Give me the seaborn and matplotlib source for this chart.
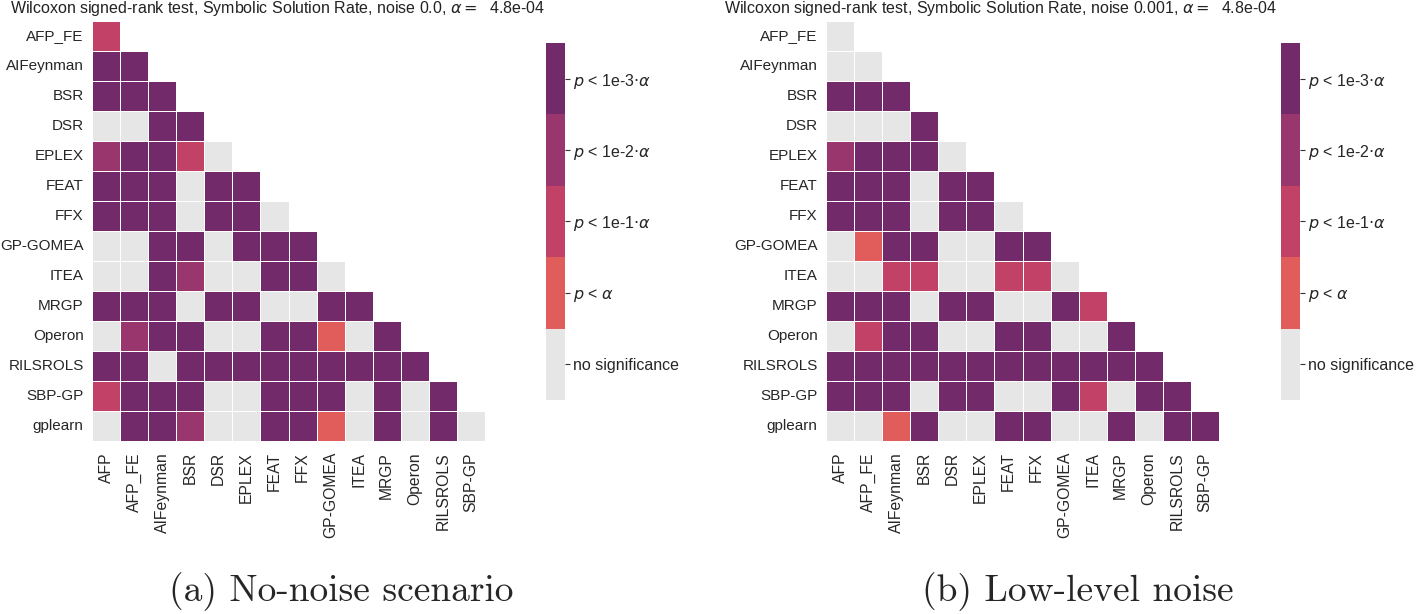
import numpy as np
import pandas as pd
import matplotlib
matplotlib.use("Agg")
import matplotlib.pyplot as plt
from matplotlib.colors import ListedColormap
import seaborn as sns

# Methods (rows / columns of the lower-triangular test matrix)
row_names = ["AFP_FE", "AIFeynman", "BSR", "DSR", "EPLEX", "FEAT", "FFX",
             "GP-GOMEA", "ITEA", "MRGP", "Operon", "RILSROLS", "SBP-GP", "gplearn"]
col_names = ["AFP", "AFP_FE", "AIFeynman", "BSR", "DSR", "EPLEX", "FEAT", "FFX",
             "GP-GOMEA", "ITEA", "MRGP", "Operon", "RILSROLS", "SBP-GP"]

# significance level: 0 none, 1 p<a, 2 p<1e-1a, 3 p<1e-2a, 4 p<1e-3a
levels_noise0 = [
    [2],
    [4, 4],
    [4, 4, 4],
    [0, 0, 4, 4],
    [3, 4, 4, 2, 0],
    [4, 4, 4, 0, 4, 4],
    [4, 4, 4, 0, 4, 4, 0],
    [0, 0, 4, 4, 0, 4, 4, 4],
    [0, 0, 4, 3, 0, 0, 4, 4, 0],
    [4, 4, 4, 0, 4, 4, 0, 0, 4, 4],
    [0, 3, 4, 4, 0, 0, 4, 4, 1, 0, 4],
    [4, 4, 0, 4, 4, 4, 4, 4, 4, 4, 4, 4],
    [2, 4, 4, 4, 0, 0, 4, 4, 4, 0, 4, 0, 4],
    [0, 4, 4, 3, 0, 0, 4, 4, 1, 0, 4, 0, 4, 0],
]
levels_noise001 = [
    [0],
    [0, 0],
    [4, 4, 4],
    [0, 0, 0, 4],
    [3, 4, 4, 4, 0],
    [4, 4, 4, 0, 4, 4],
    [4, 4, 4, 0, 4, 4, 0],
    [0, 1, 4, 4, 0, 0, 4, 4],
    [0, 0, 2, 2, 0, 0, 2, 2, 0],
    [4, 4, 4, 0, 4, 4, 0, 0, 4, 2],
    [0, 2, 4, 4, 0, 0, 4, 4, 0, 0, 4],
    [4, 4, 4, 4, 4, 4, 4, 4, 4, 4, 4, 4],
    [4, 4, 4, 0, 4, 4, 0, 0, 4, 2, 0, 4, 4],
    [0, 0, 1, 4, 0, 0, 4, 4, 0, 0, 4, 0, 4, 4],
]

level_labels = ["no significance", r"$p$ < $\alpha$", r"$p$ < 1e-1$\cdot\alpha$",
                r"$p$ < 1e-2$\cdot\alpha$", r"$p$ < 1e-3$\cdot\alpha$"]
colors = ["#e6e6e6", "#e05d5b", "#c24167", "#99366e", "#722a6a"]

titles = [r"Wilcoxon signed-rank test, Symbolic Solution Rate, noise 0.0, $\alpha =$  4.8e-04",
          r"Wilcoxon signed-rank test, Symbolic Solution Rate, noise 0.001, $\alpha =$  4.8e-04"]
captions = ["(a) No-noise scenario", "(b) Low-level noise"]

sns.set_style("white")
plt.rcParams["font.family"] = ["Liberation Sans", "DejaVu Sans"]


def to_frame(rows):
    n = len(row_names)
    m = np.full((n, len(col_names)), np.nan)
    for i, r in enumerate(rows):
        m[i, :len(r)] = r
    return pd.DataFrame(m, index=row_names, columns=col_names)


W, H = 1418, 614
fig = plt.figure(figsize=(W / 100, H / 100), dpi=100)
cmap = ListedColormap(colors)

panels = [(levels_noise0, 92, 546, 278), (levels_noise001, 826, 1281, 1000)]
for k, (rows, ax_x, cb_x, title_x) in enumerate(panels):
    ax = fig.add_axes([ax_x / W, 1 - 441 / H, 393 / W, 420 / H])
    cax = fig.add_axes([cb_x / W, 1 - 400 / H, 19 / W, 357 / H])
    df = to_frame(rows)
    sns.heatmap(df, ax=ax, cbar_ax=cax, cmap=cmap, vmin=-0.5, vmax=4.5,
                linewidths=0.5, linecolor="white", square=False,
                cbar_kws={"ticks": range(5)})
    ax.tick_params(length=0)
    ax.tick_params(axis="y", pad=6, labelsize=11)
    ax.tick_params(axis="x", pad=8, labelsize=11.3)
    plt.setp(ax.get_xticklabels(), rotation=90)
    plt.setp(ax.get_yticklabels(), rotation=0)
    cb = ax.collections[0].colorbar
    cb.set_ticklabels(level_labels)
    cb.outline.set_visible(False)
    cax.tick_params(right=True, length=3.5, width=0.8, labelsize=11.5, pad=2,
                    color="#333333")
    fig.text(title_x / W, 1 - 8 / H, titles[k], ha="center", va="center",
             fontsize=11.5, color="#222222")
    fig.text((341 if k == 0 else 1078) / W, 1 - 592 / H, captions[k],
             ha="center", va="center", fontsize=27, family="cmr10")

fig.savefig("out.png", dpi=100)
